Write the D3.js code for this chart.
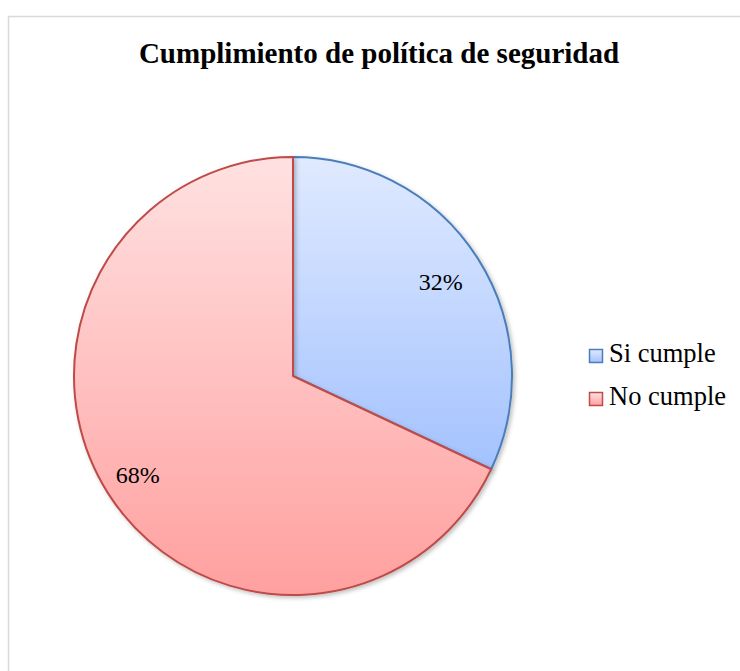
<!DOCTYPE html>
<html><head><meta charset="utf-8">
<script src="https://cdn.jsdelivr.net/npm/d3@7"></script>
<style>html,body{margin:0;padding:0;background:#fff;}
svg text{font-family:"Liberation Serif","Times New Roman",Times,serif;}</style>
</head><body>
<svg id="chart" width="740" height="671"></svg>
<script>
const categories = ["Si cumple", "No cumple"];
const values = [32, 68];
const labels = ["32%", "68%"];
const title = "Cumplimiento de política de seguridad";

const fills = [["#e0eaff", "#a3c2fe"], ["#ffe1e1", "#ffa09f"]];
const strokes = ["#4a7ebb", "#be4b48"];

const svg = d3.select("#chart");
const defs = svg.append("defs");
fills.forEach((f, i) => {
  const g = defs.append("linearGradient").attr("id", "g" + i)
    .attr("x1", 0).attr("y1", 0).attr("x2", 0).attr("y2", 1);
  g.append("stop").attr("offset", "0%").attr("stop-color", f[0]);
  g.append("stop").attr("offset", "100%").attr("stop-color", f[1]);
});
const filt = defs.append("filter").attr("id", "sh").attr("x", "-10%").attr("y", "-10%").attr("width", "130%").attr("height", "130%");
filt.append("feDropShadow").attr("dx", 2).attr("dy", 2).attr("stdDeviation", 2).attr("flood-color", "#000").attr("flood-opacity", 0.25);

// frame
svg.append("rect").attr("x", 8.5).attr("y", 16.5).attr("width", 740).attr("height", 700)
  .attr("fill", "#fff").attr("stroke", "#d9d9d9").attr("stroke-width", 1.5);

svg.append("text").attr("x", 379).attr("y", 63).attr("text-anchor", "middle")
  .attr("font-weight", "bold").attr("font-size", 29).attr("fill", "#000").text(title);

const cx = 293, cy = 376, r = 219;
const pie = d3.pie().sort(null).value(d => d);
const arcs = pie(values);
const arc = d3.arc().innerRadius(0).outerRadius(r);
const g = svg.append("g").attr("transform", `translate(${cx},${cy})`);
g.selectAll("path.s").data(arcs).enter().append("path").attr("class", "s")
  .attr("d", arc).attr("fill", (d, i) => `url(#g${i})`)
  .attr("stroke", (d, i) => strokes[i]).attr("stroke-width", 2)
  .attr("stroke-linejoin", "round").attr("filter", "url(#sh)");

const labelR = [175, 184];
g.selectAll("text.l").data(arcs).enter().append("text").attr("class", "l")
  .attr("transform", (d, i) => {
    const c = d3.arc().innerRadius(labelR[i]).outerRadius(labelR[i]).centroid(d);
    return `translate(${c[0]},${c[1]})`;
  })
  .attr("text-anchor", "middle").attr("dy", "0.33em")
  .attr("font-size", 24).attr("fill", "#000").text((d, i) => labels[i]);

const leg = svg.append("g");
const ly = d3.scalePoint().domain(categories).range([362, 405]);
categories.forEach((c, i) => {
  const y = ly(c);
  leg.append("rect").attr("x", 589.5).attr("y", y - 12.5).attr("width", 13).attr("height", 13)
    .attr("fill", `url(#g${i})`).attr("stroke", strokes[i]).attr("stroke-width", 1.5);
  leg.append("text").attr("x", 609).attr("y", y)
    .attr("font-size", 26.5).attr("fill", "#000").text(c);
});
</script>
</body></html>
